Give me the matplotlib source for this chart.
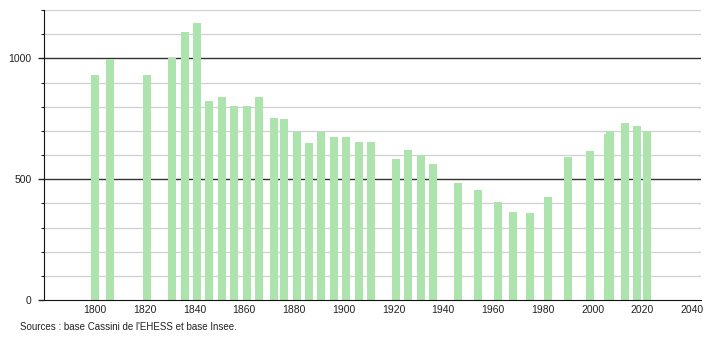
import matplotlib
matplotlib.use("Agg")
import matplotlib.pyplot as plt
from matplotlib.ticker import MultipleLocator

# Census years and population counts
years = [1800, 1806, 1821, 1831, 1836, 1841, 1846, 1851, 1856, 1861,
         1866, 1872, 1876, 1881, 1886, 1891, 1896, 1901, 1906, 1911,
         1921, 1926, 1931, 1936, 1946, 1954, 1962, 1968, 1975, 1982,
         1990, 1999, 2006, 2007, 2013, 2018, 2022]
population = [929, 997, 932, 1003, 1107, 1148, 824, 838, 803, 803,
              838, 754, 749, 696, 651, 696, 676, 676, 653, 653,
              582, 621, 599, 563, 486, 455, 407, 364, 360, 427,
              593, 618, 687, 698, 731, 720, 698]

x_ticks = [1800, 1820, 1840, 1860, 1880, 1900, 1920, 1940, 1960, 1980, 2000, 2020, 2040]
y_ticks = [0, 500, 1000]
source_text = "Sources : base Cassini de l'EHESS et base Insee."

plt.rcParams['font.family'] = ['Liberation Sans', 'DejaVu Sans']

fig = plt.figure(figsize=(7.1, 3.4), dpi=100)
ax = fig.add_axes([0.062, 0.1176, 0.925, 0.853])

# Horizontal grid: light every 100, dark at 500 and 1000
for v in range(100, 1201, 100):
    if v % 500 == 0:
        ax.axhline(v, color='#333333', linewidth=1.0, zorder=1)
    else:
        ax.axhline(v, color='#d0d0d0', linewidth=0.9, zorder=1)

ax.bar(years, population, width=3.2, color='#ade3ad', zorder=2)

ax.set_xlim(1779.5, 2043.5)
ax.set_ylim(0, 1200)

ax.set_xticks(x_ticks)
ax.set_xticklabels([str(t) for t in x_ticks])
ax.set_yticks(y_ticks)
ax.set_yticklabels([str(t) for t in y_ticks])
ax.yaxis.set_minor_locator(MultipleLocator(100))

ax.tick_params(axis='x', length=0, pad=3.5, labelsize=7.5, colors='#222222')
ax.tick_params(axis='y', which='major', length=4, width=1, pad=5,
               labelsize=7.5, colors='#222222')
ax.tick_params(axis='y', which='minor', length=2.5, width=0.8, color='#222222')

for side in ['top', 'right']:
    ax.spines[side].set_visible(False)
ax.spines['left'].set_color('#111111')
ax.spines['bottom'].set_color('#111111')
ax.spines['left'].set_zorder(3)
ax.spines['bottom'].set_zorder(3)

fig.text(20 / 710, 1 - 327 / 340, source_text, fontsize=7, color='#222222',
         va='center', ha='left')

fig.savefig('out.png', dpi=100)
plt.close(fig)
